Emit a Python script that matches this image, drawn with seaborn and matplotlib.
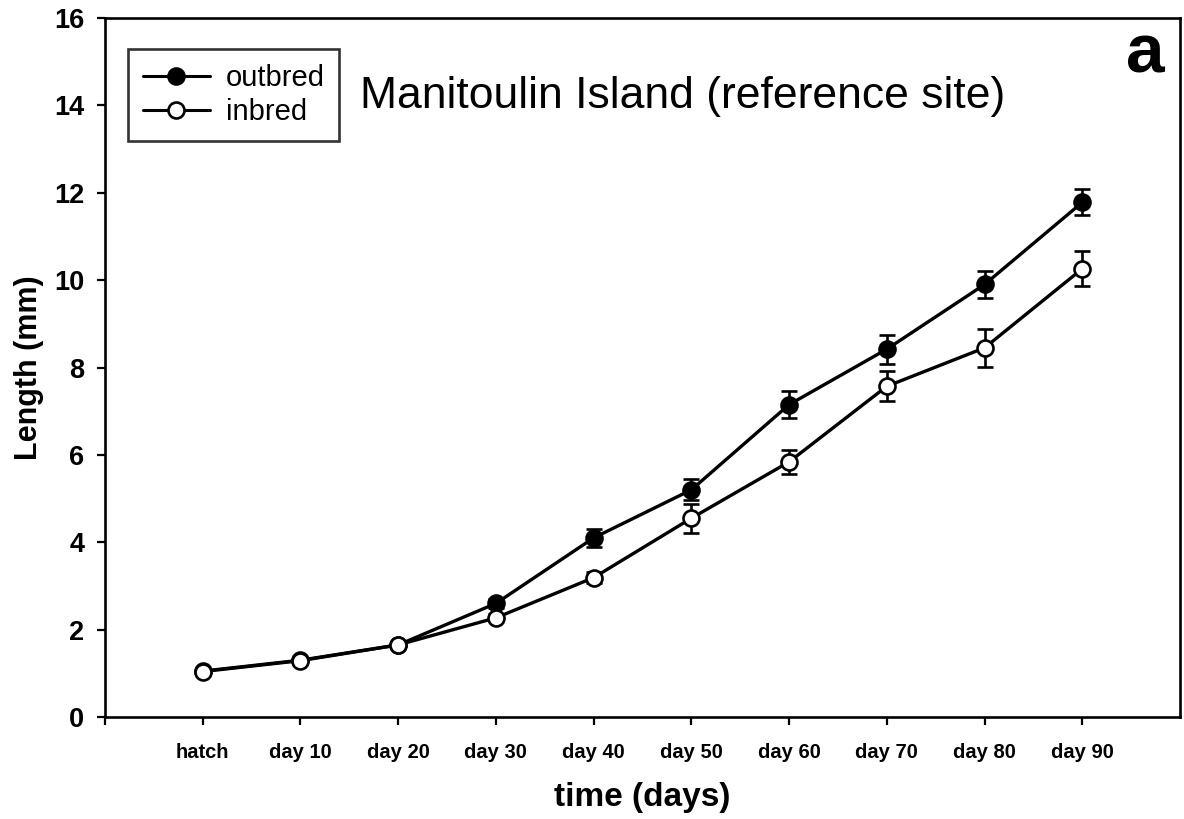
import numpy as np
import pandas as pd
import matplotlib
matplotlib.use("Agg")
import matplotlib.pyplot as plt
import seaborn as sns
from matplotlib.lines import Line2D

categories = ["hatch", "day 10", "day 20", "day 30", "day 40", "day 50",
              "day 60", "day 70", "day 80", "day 90"]
outbred_mean = [1.05, 1.30, 1.65, 2.60, 4.10, 5.20, 7.15, 8.42, 9.90, 11.78]
outbred_se = [0.05, 0.05, 0.06, 0.10, 0.20, 0.24, 0.31, 0.33, 0.30, 0.30]
inbred_mean = [1.04, 1.29, 1.65, 2.27, 3.19, 4.55, 5.84, 7.57, 8.45, 10.26]
inbred_se = [0.04, 0.05, 0.06, 0.08, 0.12, 0.33, 0.27, 0.34, 0.43, 0.40]
groups = ["outbred", "inbred"]

sns.set_theme(style="ticks")
plt.rcParams["font.family"] = ["Liberation Sans", "DejaVu Sans"]
plt.rcParams.update({"text.color": "black", "axes.labelcolor": "black",
                     "xtick.color": "black", "ytick.color": "black",
                     "axes.edgecolor": "black"})

pos = np.arange(len(categories))
df = pd.DataFrame({
    "pos": np.concatenate([pos, pos]),
    "length": outbred_mean + inbred_mean,
    "se": outbred_se + inbred_se,
    "group": [groups[0]] * len(pos) + [groups[1]] * len(pos),
})

fig = plt.figure(figsize=(11.84, 8.19), dpi=100)
ax = fig.add_axes([105 / 1184, 1 - 717 / 819, (1180 - 105) / 1184, (717 - 18) / 819])

face = {"outbred": "black", "inbred": "white"}
for g in groups:
    sub = df[df["group"] == g]
    ax.errorbar(sub["pos"], sub["length"], yerr=sub["se"], fmt="none",
                ecolor="black", elinewidth=1.9, capsize=6, capthick=1.9, zorder=2)
    sns.lineplot(data=sub, x="pos", y="length", ax=ax, color="black",
                 linewidth=2.4, marker="o", markersize=11.5,
                 markerfacecolor=face[g], markeredgecolor="black",
                 markeredgewidth=1.9, zorder=3, legend=False)

ax.set_xlim(-1, 10)
ax.set_ylim(0, 16)
ax.set_yticks(np.arange(0, 17, 2))
ax.set_xticks([-1] + list(pos))
ax.set_xticklabels([""] + categories, fontsize=14.5, fontweight="bold")
ax.tick_params(axis="y", labelsize=19.5, width=1.6, length=6, direction="out", pad=9)
ax.tick_params(axis="x", width=1.6, length=6, direction="out", pad=13)
for lab in ax.get_yticklabels():
    lab.set_fontweight("bold")
for s in ax.spines.values():
    s.set_linewidth(1.9)

ax.set_xlabel("time (days)", fontsize=24, fontweight="bold", labelpad=14)
ax.set_ylabel("Length (mm)", fontsize=22, fontweight="bold", labelpad=7)

ax.text(0.237, 0.887, "Manitoulin Island (reference site)", transform=ax.transAxes,
        fontsize=32, ha="left", va="center")
ax.text(0.986, 0.948, "a", transform=ax.transAxes, fontsize=50,
        fontweight="bold", ha="right", va="center")

handles = [
    Line2D([], [], color="black", linewidth=2.2, marker="o", markersize=11.5,
           markerfacecolor=face[g], markeredgecolor="black", markeredgewidth=1.9)
    for g in groups
]
leg = ax.legend(handles, groups, loc="upper left", bbox_to_anchor=(0.0215, 0.955),
                fontsize=21, frameon=True, fancybox=False, edgecolor="black",
                handlelength=2.3, borderpad=0.5, labelspacing=0.22,
                handletextpad=0.55, borderaxespad=0)
leg.get_frame().set_linewidth(1.9)

fig.savefig("out.png", dpi=100)
